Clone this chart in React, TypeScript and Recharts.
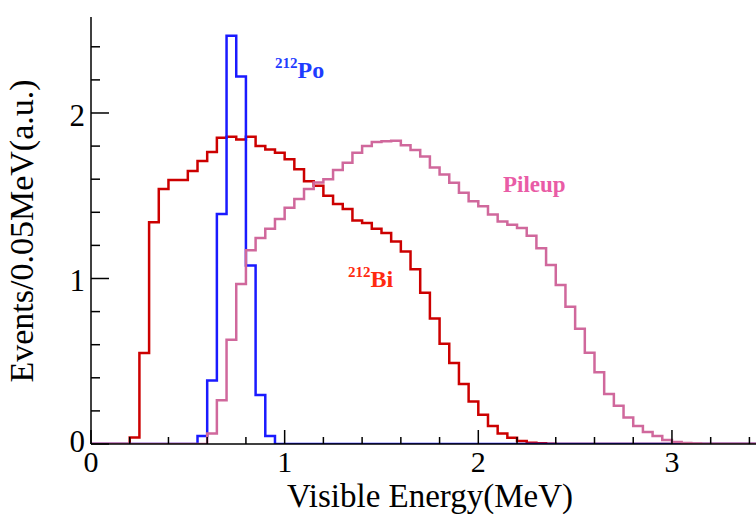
import { LineChart, Line, XAxis, YAxis } from "recharts";

// bin width of the histograms (MeV)
const BIN_WIDTH = 0.05;

// 212Bi spectrum, one value per 0.05 MeV bin starting at 0
const bi212 = [
  0, 0, 0, 0, 0.04, 0.55, 1.34, 1.54, 1.595, 1.595,
  1.65, 1.71, 1.765, 1.85, 1.856, 1.84, 1.856, 1.8, 1.78, 1.76,
  1.72, 1.66, 1.587, 1.56, 1.5, 1.45, 1.42, 1.35, 1.335, 1.3,
  1.275, 1.224, 1.163, 1.056, 0.914, 0.758, 0.606, 0.49, 0.363, 0.257,
  0.176, 0.109, 0.063, 0.038, 0.018, 0.008, 0.004, 0.002, 0, 0,
  0, 0, 0, 0, 0, 0, 0, 0, 0, 0,
  0, 0, 0, 0, 0, 0, 0, 0, 0, 0,
];

// 212Po peak
const po212 = [
  0, 0, 0, 0, 0, 0, 0, 0, 0, 0,
  0, 0.049, 0.383, 1.39, 2.466, 2.22, 1.078, 0.296, 0.049, 0,
  0, 0, 0, 0, 0, 0, 0, 0, 0, 0,
  0, 0, 0, 0, 0, 0, 0, 0, 0, 0,
  0, 0, 0, 0, 0, 0, 0, 0, 0, 0,
  0, 0, 0, 0, 0, 0, 0, 0, 0, 0,
  0, 0, 0, 0, 0, 0, 0, 0, 0, 0,
];

// pileup spectrum
const pileup = [
  0, 0, 0, 0, 0, 0, 0, 0, 0, 0,
  0, 0, 0.063, 0.265, 0.63, 0.967, 1.17, 1.244, 1.3, 1.36,
  1.427, 1.48, 1.54, 1.58, 1.6, 1.655, 1.7, 1.76, 1.8, 1.825,
  1.83, 1.832, 1.805, 1.777, 1.737, 1.67, 1.629, 1.579, 1.518, 1.467,
  1.437, 1.386, 1.345, 1.325, 1.305, 1.258, 1.183, 1.082, 0.96, 0.829,
  0.697, 0.551, 0.433, 0.302, 0.231, 0.16, 0.109, 0.073, 0.049, 0.024,
  0.012, 0.006, 0.003, 0, 0, 0, 0, 0, 0, 0,
];

const xTicks = [0, 0.2, 0.4, 0.6, 0.8, 1, 1.2, 1.4, 1.6, 1.8, 2, 2.2, 2.4, 2.6, 2.8, 3, 3.2, 3.4];
const yTicks = [0, 0.2, 0.4, 0.6, 0.8, 1, 1.2, 1.4, 1.6, 1.8, 2, 2.2, 2.4];

// histogram rows at each bin's lower edge, plus the closing edge
const rows = bi212.map((_, i) => ({
  e: i * BIN_WIDTH,
  bi: bi212[i],
  po: po212[i],
  pu: pileup[i],
}));
rows.push({ e: bi212.length * BIN_WIDTH, bi: 0, po: 0, pu: 0 });

const SERIF = '"Liberation Serif", "Times New Roman", serif';
const Y_GAP = 6;
const X_GAP = 28;

const isMajor = (v: number) => Math.abs(v - Math.round(v)) < 1e-6;

function YTick(props: any) {
  const { x, y, payload } = props;
  const v = payload.value;
  const major = isMajor(v);
  const ax = x + Y_GAP;
  return (
    <g>
      <line x1={ax} x2={ax + (major ? 18 : 9)} y1={y} y2={y} stroke="#000" strokeWidth={1.5} />
      {major && (
        <text x={x} y={y} dy={v === 0 ? 8 : 13} textAnchor="end" fontSize={31} fontFamily={SERIF} fill="#000">
          {Math.round(v)}
        </text>
      )}
    </g>
  );
}

function XTick(props: any) {
  const { x, y, payload } = props;
  const v = payload.value;
  const major = isMajor(v);
  const ay = y - X_GAP;
  return (
    <g>
      <line x1={x} x2={x} y1={ay} y2={ay - (major ? 14 : 7)} stroke="#000" strokeWidth={1.5} />
      {major && (
        <text x={x} y={y} textAnchor="middle" fontSize={30} fontFamily={SERIF} fill="#000">
          {Math.round(v)}
        </text>
      )}
    </g>
  );
}

export default function App() {
  return (
    <div style={{ position: "absolute", left: 0, top: 0, width: 756, height: 514, background: "#fff" }}>
      <LineChart width={756} height={514} data={rows} margin={{ top: 17, right: 0, bottom: 0, left: 0 }}>
        <XAxis
          dataKey="e"
          type="number"
          domain={[0, 3.434]}
          allowDataOverflow
          ticks={xTicks}
          interval={0}
          height={70}
          tickSize={0}
          tickMargin={X_GAP}
          tickLine={false}
          tick={<XTick />}
          axisLine={{ stroke: "#000", strokeWidth: 1.5 }}
        />
        <XAxis
          xAxisId="top"
          orientation="top"
          dataKey="e"
          type="number"
          domain={[0, 3.434]}
          height={0}
          tick={false}
          tickLine={false}
          axisLine={{ stroke: "#000", strokeWidth: 1.5 }}
        />
        <YAxis
          type="number"
          domain={[0, 2.58]}
          allowDataOverflow
          ticks={yTicks}
          interval={0}
          width={91}
          tickSize={0}
          tickMargin={Y_GAP}
          tickLine={false}
          tick={<YTick />}
          axisLine={{ stroke: "#000", strokeWidth: 1.5 }}
        />
        <Line type="stepAfter" dataKey="bi" stroke="#cc0000" strokeWidth={2.5} dot={false} activeDot={false} isAnimationActive={false} />
        <Line type="stepAfter" dataKey="po" stroke="#1a1aff" strokeWidth={2.5} dot={false} activeDot={false} isAnimationActive={false} />
        <Line type="stepAfter" dataKey="pu" stroke="#d0689c" strokeWidth={2.5} dot={false} activeDot={false} isAnimationActive={false} />
      </LineChart>
      <svg width={756} height={514} style={{ position: "absolute", left: 0, top: 0, pointerEvents: "none" }}>
        <text x={275} y={78} fontFamily={SERIF} fontWeight="bold" fill="#1e3cff">
          <tspan fontSize={15} dy={-10}>212</tspan>
          <tspan fontSize={24} dy={10}>Po</tspan>
        </text>
        <text x={348} y={287} fontFamily={SERIF} fontWeight="bold" fill="#ff2a10">
          <tspan fontSize={15} dy={-10}>212</tspan>
          <tspan fontSize={24} dy={10}>Bi</tspan>
        </text>
        <text x={503} y={192} fontFamily={SERIF} fontWeight="bold" fontSize={23} fill="#e95ca6">
          Pileup
        </text>
        <text x={430} y={507} textAnchor="middle" fontFamily={SERIF} fontSize={33} fill="#000">
          Visible Energy(MeV)
        </text>
        <text
          x={33}
          y={231}
          textAnchor="middle"
          transform="rotate(-90, 33, 231)"
          fontFamily={SERIF}
          fontSize={34}
          fill="#000"
        >
          Events/0.05MeV(a.u.)
        </text>
      </svg>
    </div>
  );
}
